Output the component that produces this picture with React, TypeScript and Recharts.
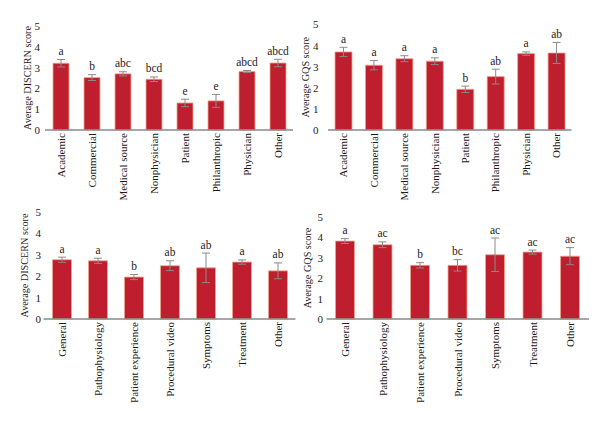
import { Bar, BarChart, ErrorBar, Label, LabelList, XAxis, YAxis } from 'recharts';

// Video source groups
const sourceNames = [
  'Academic',
  'Commercial',
  'Medical source',
  'Nonphysician',
  'Patient',
  'Philanthropic',
  'Physician',
  'Other',
];
const sourceDiscern = [3.21, 2.52, 2.7, 2.44, 1.3, 1.4, 2.81, 3.22];
const sourceDiscernErr = [0.18, 0.14, 0.1, 0.11, 0.18, 0.31, 0.05, 0.18];
const sourceDiscernSig = ['a', 'b', 'abc', 'bcd', 'e', 'e', 'abcd', 'abcd'];

const sourceGqs = [3.7, 3.07, 3.38, 3.26, 1.93, 2.53, 3.62, 3.65];
const sourceGqsErr = [0.22, 0.22, 0.14, 0.16, 0.15, 0.35, 0.08, 0.5];
const sourceGqsSig = ['a', 'a', 'a', 'a', 'b', 'ab', 'a', 'ab'];

// Video content groups
const contentNames = [
  'General',
  'Pathophysiology',
  'Patient experience',
  'Procedural video',
  'Symptoms',
  'Treatment',
  'Other',
];
const contentDiscern = [2.77, 2.72, 1.96, 2.49, 2.39, 2.66, 2.25];
const contentDiscernErr = [0.12, 0.12, 0.12, 0.23, 0.69, 0.1, 0.37];
const contentDiscernSig = ['a', 'a', 'b', 'ab', 'ab', 'a', 'ab'];

const contentGqs = [3.82, 3.64, 2.63, 2.63, 3.15, 3.28, 3.08];
const contentGqsErr = [0.12, 0.14, 0.13, 0.28, 0.82, 0.1, 0.42];
const contentGqsSig = ['a', 'ac', 'b', 'bc', 'ac', 'ac', 'ac'];

const scoreTicks = [0, 1, 2, 3, 4, 5];

const FONT = "'Liberation Serif', 'Times New Roman', serif";
const TEXT = '#1e1a1b';
const BAR_FILL = '#be1e2d';
const BAR_EDGE = '#f0a38c';
const GREY = '#8a8a8a';

type Frame = { x: number; y: number; w: number; h: number };
type PlotBox = { left: number; right: number; top: number; bottom: number };

type PanelProps = {
  title: string;
  names: string[];
  values: number[];
  errs: number[];
  sigs: string[];
  frame: Frame;
  plot: PlotBox; // page coordinates of the plotting area
  tickRight: number; // page x where y tick numbers end
  titleX: number; // page x of the rotated axis title
  barSize: number;
};

const Y_AXIS_W = 24;

function ScorePanel({ title, names, values, errs, sigs, frame, plot, tickRight, titleX, barSize }: PanelProps) {
  const data = names.map((name, i) => ({ name, value: values[i], err: errs[i], sig: sigs[i] }));

  const marginLeft = plot.left - frame.x - Y_AXIS_W;
  const marginRight = frame.x + frame.w - plot.right;
  const marginTop = plot.top - frame.y;
  const xAxisHeight = frame.y + frame.h - plot.bottom;

  const VerticalTick = (props: any) => {
    const { x, y, payload } = props;
    return (
      <text
        x={x}
        y={y}
        transform={`rotate(-90, ${x}, ${y})`}
        textAnchor="end"
        dominantBaseline="central"
        fontSize={11}
        fontFamily={FONT}
        fill={TEXT}
      >
        {payload.value}
      </text>
    );
  };

  // letter groups sit just above the top of each error bar
  const SigLabel = (props: any) => {
    const { x, y, width, height, index, value } = props;
    const pxPerUnit = Number(height) / values[index];
    const top = Number(y) - errs[index] * pxPerUnit;
    return (
      <text
        x={Number(x) + Number(width) / 2}
        y={top - 4.5}
        textAnchor="middle"
        fontSize={11.5}
        fontFamily={FONT}
        fill={TEXT}
      >
        {value}
      </text>
    );
  };

  const AxisTitle = (props: any) => {
    const vb = props.viewBox;
    const cy = vb.y + vb.height / 2;
    const cx = titleX - frame.x;
    return (
      <text
        x={cx}
        y={cy}
        transform={`rotate(-90, ${cx}, ${cy})`}
        textAnchor="middle"
        dominantBaseline="central"
        fontSize={10.2}
        fontFamily={FONT}
        fill={TEXT}
      >
        {title}
      </text>
    );
  };

  return (
    <div style={{ position: 'absolute', left: frame.x, top: frame.y, width: frame.w, height: frame.h }}>
      <BarChart
        width={frame.w}
        height={frame.h}
        data={data}
        barSize={barSize}
        margin={{ top: marginTop, right: marginRight, bottom: 0, left: marginLeft }}
      >
        <XAxis
          dataKey="name"
          interval={0}
          height={xAxisHeight}
          tickLine={false}
          tickSize={0}
          tickMargin={3}
          axisLine={{ stroke: GREY, strokeWidth: 1.3 }}
          tick={<VerticalTick />}
        />
        <YAxis
          width={Y_AXIS_W}
          domain={[0, 5]}
          ticks={scoreTicks}
          axisLine={false}
          tickLine={false}
          tickSize={0}
          tickMargin={plot.left - tickRight}
          tick={{ fontSize: 11, fontFamily: FONT, fill: TEXT }}
        >
          <Label content={<AxisTitle />} />
        </YAxis>
        <Bar dataKey="value" fill={BAR_FILL} stroke={BAR_EDGE} strokeWidth={0.8} isAnimationActive={false}>
          <ErrorBar dataKey="err" width={4} stroke={GREY} strokeWidth={1} direction="y" isAnimationActive={false} />
          <LabelList dataKey="sig" content={<SigLabel />} />
        </Bar>
      </BarChart>
    </div>
  );
}

export default function App() {
  return (
    <div style={{ position: 'absolute', left: 0, top: 0, width: 600, height: 421, background: '#fff' }}>
      <ScorePanel
        title="Average DISCERN score"
        names={sourceNames}
        values={sourceDiscern}
        errs={sourceDiscernErr}
        sigs={sourceDiscernSig}
        frame={{ x: 0, y: 0, w: 300, h: 205 }}
        plot={{ left: 45, right: 293, top: 26, bottom: 130 }}
        tickRight={40}
        titleX={27}
        barSize={16}
      />
      <ScorePanel
        title="Average GQS score"
        names={sourceNames}
        values={sourceGqs}
        errs={sourceGqsErr}
        sigs={sourceGqsSig}
        frame={{ x: 300, y: 0, w: 300, h: 205 }}
        plot={{ left: 328, right: 571.5, top: 24.5, bottom: 130 }}
        tickRight={318.5}
        titleX={305}
        barSize={17}
      />
      <ScorePanel
        title="Average DISCERN score"
        names={contentNames}
        values={contentDiscern}
        errs={contentDiscernErr}
        sigs={contentDiscernSig}
        frame={{ x: 0, y: 200, w: 300, h: 221 }}
        plot={{ left: 43.5, right: 295.5, top: 212, bottom: 319 }}
        tickRight={41}
        titleX={24}
        barSize={19}
      />
      <ScorePanel
        title="Average GQS score"
        names={contentNames}
        values={contentGqs}
        errs={contentGqsErr}
        sigs={contentGqsSig}
        frame={{ x: 300, y: 200, w: 300, h: 221 }}
        plot={{ left: 326.5, right: 589, top: 217, bottom: 319 }}
        tickRight={323}
        titleX={307.5}
        barSize={19}
      />
    </div>
  );
}
